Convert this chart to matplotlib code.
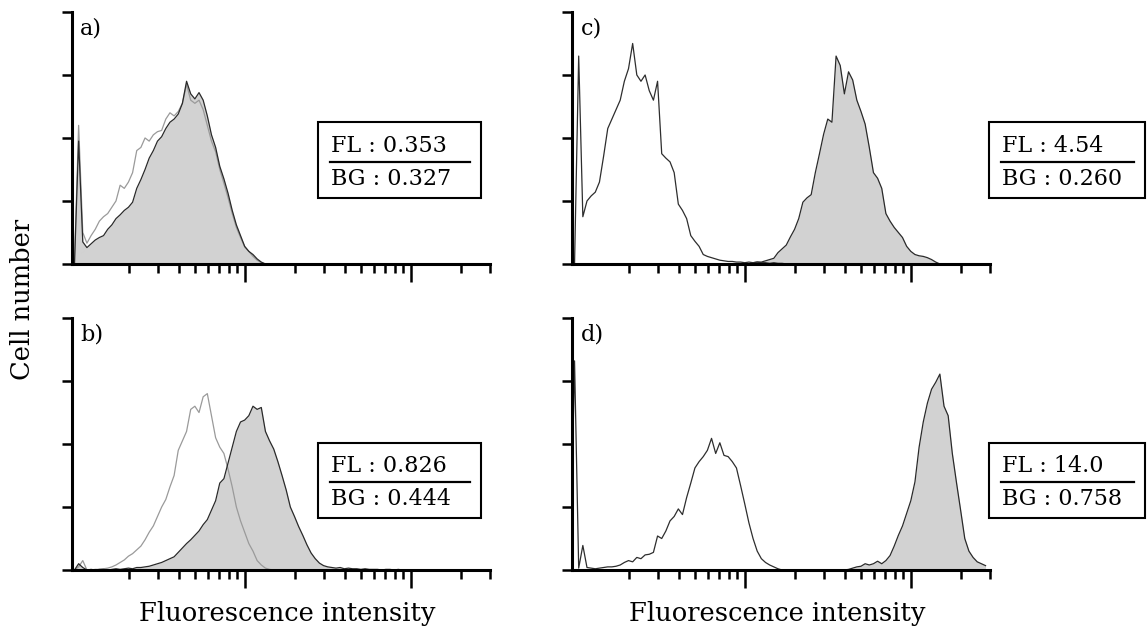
import numpy as np
import matplotlib.pyplot as plt
from matplotlib.patches import Rectangle
from matplotlib.ticker import FixedLocator, NullFormatter

plt.rcParams['font.family'] = ['DejaVu Serif']

# log-amplified channels, 40 per decade (channel -2 .. 98)
channels = np.arange(-2, 99)
intensity = 10 ** (channels / 40)

# cell counts per channel (arbitrary units)
a_fl = [0, 0, 1.95, 0.35, 0.26, 0.32, 0.38, 0.42, 0.45, 0.55, 0.62, 0.72, 0.78, 0.85, 0.9, 0.98,
        1.2, 1.34, 1.5, 1.68, 1.8, 1.95, 2.02, 2.15, 2.25, 2.3, 2.38, 2.55, 2.9, 2.7, 2.62, 2.72,
        2.6, 2.35, 2.05, 1.85, 1.55, 1.35, 1.12, 0.85, 0.62, 0.45, 0.28, 0.2, 0.15, 0.08, 0.03]
a_bg = [0, 0, 2.2, 0.5, 0.33, 0.45, 0.55, 0.68, 0.75, 0.8, 0.9, 1.0, 1.25, 1.2, 1.3, 1.45,
        1.8, 1.85, 2.0, 1.95, 2.05, 2.1, 2.12, 2.3, 2.4, 2.35, 2.42, 2.55, 2.85, 2.6, 2.55, 2.6,
        2.45, 2.2, 1.95, 1.78, 1.5, 1.28, 1.05, 0.8, 0.58, 0.42, 0.27, 0.2, 0.12, 0.06, 0.02]

b_fl = [0, 0, 0.1, 0.04, 0.0, 0.01, 0.0, 0.01, 0.01, 0.0, 0.01, 0.02, 0.01, 0.02, 0.03, 0.02,
        0.04, 0.04, 0.05, 0.06, 0.08, 0.1, 0.12, 0.15, 0.18, 0.21, 0.28, 0.35, 0.42, 0.48, 0.55,
        0.62, 0.72, 0.8, 0.95, 1.1, 1.38, 1.45, 1.7, 1.95, 2.2, 2.35, 2.38, 2.45, 2.6, 2.55, 2.58,
        2.2, 2.05, 1.92, 1.72, 1.5, 1.27, 1.0, 0.85, 0.69, 0.55, 0.4, 0.27, 0.18, 0.11, 0.07,
        0.05, 0.04, 0.03, 0.04, 0.02, 0.03, 0.02, 0.02, 0.01, 0.02, 0.01, 0.01, 0.01, 0.0, 0.01,
        0.01, 0.0, 0.01]
b_bg = [0, 0, 0.05, 0.15, 0.0, 0.0, 0.01, 0.01, 0.02, 0.03, 0.05, 0.08, 0.12, 0.16, 0.22, 0.26,
        0.32, 0.38, 0.48, 0.6, 0.7, 0.85, 1.0, 1.12, 1.32, 1.5, 1.9, 2.05, 2.2, 2.55, 2.6, 2.5,
        2.75, 2.8, 2.45, 2.1, 1.95, 1.85, 1.6, 1.32, 1.0, 0.78, 0.6, 0.42, 0.3, 0.15, 0.08, 0.03,
        0.01]

c_fl = [0] * 44 + [0.02, 0.03, 0.03, 0.05, 0.07, 0.09, 0.18, 0.24, 0.3, 0.43, 0.55, 0.72, 0.98,
                   1.05, 1.1, 1.45, 1.75, 2.06, 2.3, 2.25, 3.3, 3.15, 2.7, 3.05, 2.92, 2.6, 2.42,
                   2.22, 1.85, 1.45, 1.36, 1.2, 0.8, 0.68, 0.58, 0.5, 0.42, 0.28, 0.2, 0.15, 0.13,
                   0.12, 0.1, 0.07, 0.03]
c_bg = [0, 0, 3.3, 0.75, 1.0, 1.08, 1.14, 1.3, 1.71, 2.15, 2.3, 2.45, 2.6, 2.9, 3.1, 3.5, 3.0,
        2.9, 3.0, 2.75, 2.6, 2.9, 1.75, 1.68, 1.62, 1.45, 0.95, 0.85, 0.72, 0.45, 0.36, 0.28,
        0.15, 0.12, 0.1, 0.08, 0.06, 0.05, 0.04, 0.04, 0.03, 0.03, 0.02, 0.03, 0.02, 0.03, 0.02,
        0.02, 0.01, 0.02, 0.01, 0.01]

d_fl = [0] * 67 + [0.01, 0.03, 0.05, 0.06, 0.1, 0.08, 0.1, 0.14, 0.1, 0.15, 0.23, 0.38, 0.55,
                   0.7, 0.9, 1.1, 1.4, 1.95, 2.35, 2.65, 2.87, 2.98, 3.11, 2.6, 2.45, 1.85, 1.39,
                   0.95, 0.5, 0.3, 0.2, 0.13, 0.1, 0.07]
d_bg = [0, 3.32, 0.03, 0.39, 0.04, 0.03, 0.02, 0.03, 0.04, 0.05, 0.05, 0.06, 0.08, 0.12, 0.15,
        0.13, 0.2, 0.18, 0.24, 0.25, 0.28, 0.54, 0.5, 0.62, 0.78, 0.85, 0.97, 0.88, 1.15, 1.38,
        1.62, 1.72, 1.8, 1.9, 2.09, 1.85, 2.02, 1.82, 1.8, 1.72, 1.62, 1.34, 1.05, 0.75, 0.5,
        0.3, 0.18, 0.12, 0.08, 0.05, 0.02]

panel_labels = ['a)', 'b)', 'c)', 'd)']
fl_ratios = ['0.353', '0.826', '4.54', '14.0']
bg_ratios = ['0.327', '0.444', '0.260', '0.758']
fl_series = [a_fl, b_fl, c_fl, d_fl]
bg_series = [a_bg, b_bg, c_bg, d_bg]


def pad(values):
    out = np.zeros(len(channels))
    out[:len(values)] = values
    return out


fig = plt.figure(figsize=(11.48, 6.30), dpi=100)
axes = [fig.add_axes([0.0627, 0.581, 0.3641, 0.400]),
        fig.add_axes([0.0627, 0.0952, 0.3641, 0.400]),
        fig.add_axes([0.4983, 0.581, 0.3641, 0.400]),
        fig.add_axes([0.4983, 0.0952, 0.3641, 0.400])]

bg_colors = ['#9a9a9a', '#9a9a9a', '#2e2e2e', '#2e2e2e']
# box placement in axes coords: x0, y0, width, height
boxes = [(0.589, 0.262, 0.389, 0.301),
         (0.589, 0.206, 0.389, 0.298),
         (0.998, 0.262, 0.373, 0.301),
         (0.998, 0.206, 0.373, 0.298)]

for i, ax in enumerate(axes):
    fl = pad(fl_series[i])
    bg = pad(bg_series[i])
    ax.fill_between(intensity, 0, fl, color='#d2d2d2', lw=0)
    ax.plot(intensity, bg, color=bg_colors[i], lw=0.9)
    ax.plot(intensity, fl, color='#2a2a2a', lw=0.9)

    ax.set_xscale('log')
    ax.set_xlim(10 ** -0.04, 300)
    ax.set_ylim(0, 4)
    ax.xaxis.set_major_locator(FixedLocator([10, 100]))
    ax.xaxis.set_minor_locator(FixedLocator([2, 3, 4, 5, 6, 7, 8, 9,
                                             20, 30, 40, 50, 60, 70, 80, 90, 200, 300]))
    ax.xaxis.set_major_formatter(NullFormatter())
    ax.xaxis.set_minor_formatter(NullFormatter())
    ax.set_yticks([0, 1, 2, 3, 4])
    ax.set_yticklabels([])
    ax.tick_params(axis='x', which='major', length=13, width=1.8, direction='out')
    ax.tick_params(axis='x', which='minor', length=6.5, width=1.8, direction='out')
    ax.tick_params(axis='y', length=7.5, width=1.8, direction='out')
    ax.spines[['top', 'right']].set_visible(False)
    ax.spines[['left', 'bottom']].set_linewidth(2.2)

    ax.text(0.02, 0.98, panel_labels[i], transform=ax.transAxes,
            ha='left', va='top', fontsize=16)

    x0, y0, w, h = boxes[i]
    ax.add_patch(Rectangle((x0, y0), w, h, transform=ax.transAxes, fill=False,
                           lw=1.5, ec='black', clip_on=False))
    ax.plot([x0 + 0.028, x0 + w - 0.026], [y0 + h * 0.475] * 2, transform=ax.transAxes,
            color='black', lw=1.6, clip_on=False)
    ax.text(x0 + 0.030, y0 + h * 0.69, 'FL : ' + fl_ratios[i], transform=ax.transAxes,
            ha='left', va='center', fontsize=16)
    ax.text(x0 + 0.030, y0 + h * 0.25, 'BG : ' + bg_ratios[i], transform=ax.transAxes,
            ha='left', va='center', fontsize=16)

fig.text(0.020, 0.524, 'Cell number', rotation=90, ha='center', va='center', fontsize=18.5)
fig.text(0.250, 0.026, 'Fluorescence intensity', ha='center', va='center', fontsize=18.5)
fig.text(0.677, 0.026, 'Fluorescence intensity', ha='center', va='center', fontsize=18.5)

fig.savefig('out.png', dpi=100)
